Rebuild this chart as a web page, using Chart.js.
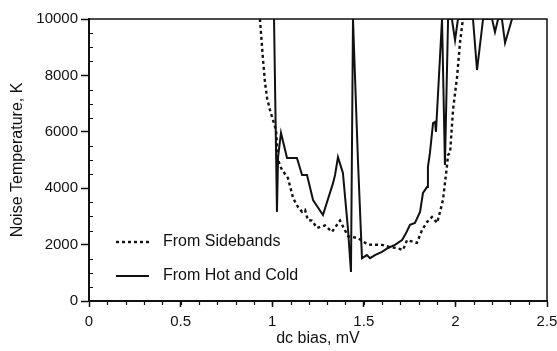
<!DOCTYPE html>
<html>
<head>
<meta charset="utf-8">
<title>Noise Temperature vs dc bias</title>
<script src="https://cdn.jsdelivr.net/npm/chart.js@4.4.1/dist/chart.umd.min.js"></script>
<style>
html,body{margin:0;padding:0;background:#fff;}
#wrap{width:557px;height:351px;}
</style>
</head>
<body>
<div id="wrap"><canvas id="noiseChart" width="557" height="351"></canvas></div>
<script>

// =========================================
// Data
// =========================================

const sidebandBias = [
0.933,0.950,0.961,0.972,0.988,1.004,1.021,1.032,1.053,1.086,
1.114,1.141,1.163,1.179,1.195,1.217,1.245,1.288,1.326,1.370,
1.414,1.468,1.523,1.599,1.643,1.676,1.714,1.736,1.790,1.818,
1.845,1.872,1.900,1.916,1.932,1.943,1.954,1.960,1.971,1.987,
2.009,2.025,2.041
];

const sidebandTemp = [
10000,8550,7730,7200,6770,6420,6060,5000,4650,4360,
3650,3330,3160,3230,2870,2850,2590,2680,2450,2850,
2300,2230,2000,1990,1910,1880,1810,2160,2060,2520,
2800,2980,2770,3160,3580,4180,4800,5180,5250,6770,
7940,9150,10000
];

const hotColdBias = [
1.010,1.026,1.032,1.048,1.081,1.135,1.163,1.190,1.223,1.277,
1.332,1.343,1.359,1.386,1.414,1.430,1.441,1.468,1.490,1.517,
1.534,1.561,1.599,1.632,1.670,1.709,1.730,1.752,1.779,1.807,
1.823,1.845,1.850,1.861,1.878,1.889,1.894,1.927,1.943,1.960,
1.981,1.998,2.014,2.096,2.118,2.151,2.200,2.216,2.233,2.254,
2.271,2.309
];

const hotColdTemp = [
10000,3160,5100,5960,5070,5070,4470,4470,3580,3050,
4180,4470,5100,4540,2520,1030,10000,5000,1520,1630,
1520,1630,1740,1880,1990,2160,2400,2700,2770,3160,
3830,4040,4750,5250,6310,6350,6000,10000,4820,10000,
10000,9250,10000,10000,8190,10000,10000,9540,10000,10000,
9150,10000
];

const seriesNames = ["From Sidebands","From Hot and Cold"];

const xTickValues = [0,0.5,1,1.5,2,2.5];
const yTickValues = [0,2000,4000,6000,8000,10000];

const xMinorStep = 0.1;
const yMinorStep = 500;

// =========================================

const fontFamily = "'Liberation Sans', Arial, Helvetica, sans-serif";
const ink = "#111111";

function toPoints(xs, ys){
    return xs.map((x,i)=>({x:x, y:ys[i]}));
}

// =========================================
// Frame, minor ticks and legend
// =========================================

const framePlugin = {

id:"frame",

afterDraw(chart){

    const ctx = chart.ctx;
    const area = chart.chartArea;
    const xs = chart.scales.x;
    const ys = chart.scales.y;

    ctx.save();

    // top + right border
    ctx.strokeStyle = ink;
    ctx.lineWidth = 1.5;
    ctx.beginPath();
    ctx.moveTo(area.left, area.top);
    ctx.lineTo(area.right, area.top);
    ctx.lineTo(area.right, area.bottom);
    ctx.stroke();

    // minor ticks
    ctx.lineWidth = 1.2;
    ctx.beginPath();
    for(let v = xMinorStep; v < xs.max; v += xMinorStep){
        const px = Math.round(xs.getPixelForValue(v)) + 0.5;
        ctx.moveTo(px, area.bottom);
        ctx.lineTo(px, area.bottom + 4);
    }
    for(let v = yMinorStep; v < ys.max; v += yMinorStep){
        if(v % 2000 === 0) continue;
        const py = Math.round(ys.getPixelForValue(v)) + 0.5;
        ctx.moveTo(area.left, py);
        ctx.lineTo(area.left + 4, py);
    }
    ctx.stroke();

    // legend
    const lx = area.left + 27;
    const rows = [area.top + 223, area.top + 257];

    chart.data.datasets.forEach((ds,i)=>{

        ctx.strokeStyle = ds.borderColor;
        ctx.lineWidth = ds.borderWidth;
        ctx.setLineDash(ds.borderDash || []);
        ctx.beginPath();
        ctx.moveTo(lx, rows[i]);
        ctx.lineTo(lx + 33, rows[i]);
        ctx.stroke();
        ctx.setLineDash([]);

        ctx.fillStyle = ink;
        ctx.font = "16px " + fontFamily;
        ctx.textAlign = "left";
        ctx.textBaseline = "middle";
        ctx.fillText(ds.label, lx + 47, rows[i]);

    });

    ctx.restore();

}

};

// =========================================
// Chart
// =========================================

new Chart(

document.getElementById("noiseChart"),

{

type:"line",

data:{

datasets:[

{
label:seriesNames[0],
data:toPoints(sidebandBias, sidebandTemp),
borderColor:ink,
borderWidth:2.4,
borderDash:[3,3],
pointRadius:0,
tension:0
},

{
label:seriesNames[1],
data:toPoints(hotColdBias, hotColdTemp),
borderColor:ink,
borderWidth:2,
pointRadius:0,
tension:0
}

]

},

options:{

    responsive:false,

    animation:false,

    layout:{
        padding:{top:19, right:10, left:0, bottom:0}
    },

    plugins:{
        legend:{display:false},
        tooltip:{enabled:false}
    },

    scales:{

        x:{

            type:"linear",
            min:0,
            max:2.5,

            afterBuildTicks(scale){
                scale.ticks = xTickValues.map(v=>({value:v}));
            },

            afterFit(scale){
                scale.height = 50;
                scale.paddingLeft = 0;
                scale.paddingRight = 0;
            },

            ticks:{
                color:ink,
                padding:6,
                maxRotation:0,
                font:{family:fontFamily, size:15},
                callback:(v)=>String(v)
            },

            grid:{
                drawOnChartArea:false,
                drawTicks:true,
                tickLength:6,
                tickColor:ink,
                tickWidth:1.5
            },

            border:{
                color:ink,
                width:2
            },

            title:{
                display:true,
                text:"dc bias, mV",
                color:ink,
                padding:{top:0, bottom:3},
                font:{family:fontFamily, size:16}
            }

        },

        y:{

            min:0,
            max:10000,

            afterBuildTicks(scale){
                scale.ticks = yTickValues.map(v=>({value:v}));
            },

            afterFit(scale){
                scale.width = 89;
                scale.paddingTop = 0;
                scale.paddingBottom = 0;
            },

            ticks:{
                color:ink,
                padding:3,
                font:{family:fontFamily, size:15},
                callback:(v)=>String(v)
            },

            grid:{
                drawOnChartArea:false,
                drawTicks:true,
                tickLength:8,
                tickColor:ink,
                tickWidth:1.5
            },

            border:{
                color:ink,
                width:2
            },

            title:{
                display:true,
                text:"Noise Temperature, K",
                color:ink,
                padding:{top:8, bottom:0},
                font:{family:fontFamily, size:16}
            }

        }

    }

},

plugins:[framePlugin]

});

</script>
</body>
</html>
